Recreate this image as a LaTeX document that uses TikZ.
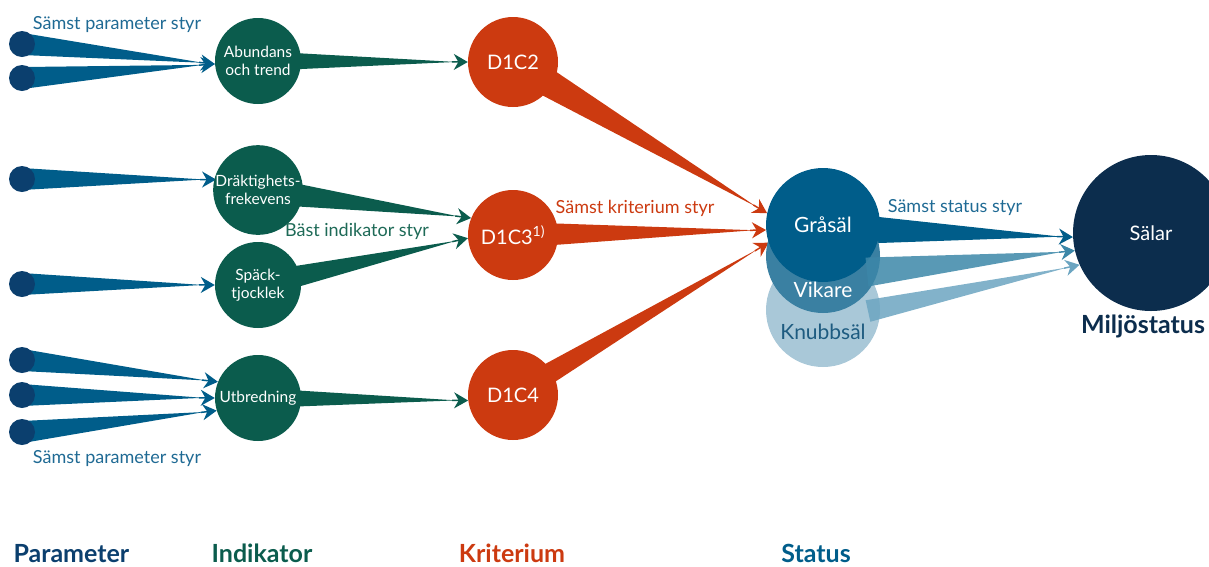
\documentclass[tikz,border=0pt]{standalone}
\usepackage{fontspec}
\setmainfont{Lato}
\usetikzlibrary{calc,arrows.meta}
\definecolor{paramDark}{HTML}{0B3F6E}
\definecolor{paramBlue}{HTML}{005D8A}
\definecolor{indGreen}{HTML}{0B5C4D}
\definecolor{critRed}{HTML}{CC3A10}
\definecolor{statMid}{HTML}{3A80A2}
\definecolor{statLight}{HTML}{A9C8D8}
\definecolor{statArrowMid}{HTML}{3C87A8}
\definecolor{statArrowLight}{HTML}{6CA5C1}
\definecolor{envNavy}{HTML}{0C2D4D}
\definecolor{noteBlue}{HTML}{1F6A94}
\definecolor{noteGreen}{HTML}{1E6A57}
\definecolor{knubbText}{HTML}{1D5B80}

\begin{document}
\begin{tikzpicture}
[x=1pt,y=-1pt,
  dotDecorate/.style={shape=circle,inner sep=0pt,minimum size=26pt},%
  indDecorate/.style={shape=circle,inner sep=0pt,minimum size=86pt,fill=indGreen,text=white,align=center,font=\fontsize{15.5}{17.5}\selectfont},%
  critDecorate/.style={shape=circle,inner sep=0pt,minimum size=90pt,fill=critRed,text=white,font=\fontsize{20}{22}\selectfont},%
  statDecorate/.style={shape=circle,inner sep=0pt,minimum size=114pt,font=\fontsize{21}{23}\selectfont},%
  noteDecorate/.style={font=\fontsize{18}{20}\selectfont},%
  headDecorate/.style={font=\fontsize{25}{27}\selectfont\bfseries,anchor=base},%
  headTip/.style={line width=1.5pt,-{Stealth[length=14pt,width=16pt]}}]
\useasboundingbox (0,0) rectangle (1209,566);
\clip (0,0) rectangle (1209,566);
%% status wedge start points
\coordinate (grOut) at (823,228);
\coordinate (viOut) at (867,272);
\coordinate (knOut) at (868,311);
%% parameter dots
\foreach \nodename/\y in {p1/44, p2/78, p3/179, p4/284, p5/360, p6/395, p7/432}
{
  \node (\nodename) at (22,\y) [dotDecorate] {};
}
%% indicators, kriteria and status (placed first, filled later)
\path
  (258,61) node (ind1) [indDecorate,fill=none] {}
  (258,190) node (ind2) [indDecorate,fill=none] {}
  (258,285) node (ind3) [indDecorate,fill=none] {}
  (258,398) node (ind4) [indDecorate,fill=none] {}
  (513,62) node (crit2) [critDecorate,fill=none] {}
  (513,235) node (crit3) [critDecorate,fill=none] {}
  (513,395) node (crit4) [critDecorate,fill=none] {}
  (823,225) node (gra) [statDecorate] {}
  (823,256) node (vik) [statDecorate] {}
  (823,310) node (knu) [statDecorate] {}
  (1151,233) node (sal) [shape=circle,minimum size=156pt] {};
%% wedges: parameter to indicator
\foreach \s/\t/\hw in {p1/ind1.184/11pt, p2/ind1.184/11pt, p3/ind2.166/11pt, p4/ind3.180/11pt,
  p5/ind4.158/11pt, p6/ind4.180/11pt, p7/ind4.197/11pt}
{
  \fill[paramBlue] ($(\s)!\hw!90:(\t)$) -- ($(\s)!\hw!-90:(\t)$) -- ($(\t)!12pt!(\s)$) -- cycle;
  \draw[paramBlue,headTip] ($(\t)!16pt!(\s)$) -- (\t);
}
\foreach \nodename in {p1,p2,p3,p4,p5,p6,p7}
{
  \fill[paramDark] (\nodename) circle (13pt);
}
%% wedges: indicator to kriterium
\foreach \s/\t/\hw in {ind1/crit2.180/10pt, ind2/crit3.158/14pt, ind3/crit3.184/13pt, ind4/crit4.187/10pt}
{
  \fill[indGreen] ($(\s)!\hw!90:(\t)$) -- ($(\s)!\hw!-90:(\t)$) -- ($(\t)!12pt!(\s)$) -- cycle;
  \draw[indGreen,headTip] ($(\t)!16pt!(\s)$) -- (\t);
}
%% wedges: kriterium to status
\foreach \s/\t/\hw in {crit2/gra.168/16pt, crit3/gra.185/13pt, crit4/gra.198/12pt}
{
  \fill[critRed] ($(\s)!\hw!90:(\t)$) -- ($(\s)!\hw!-90:(\t)$) -- ($(\t)!12pt!(\s)$) -- cycle;
  \draw[critRed,headTip] ($(\t)!16pt!(\s)$) -- (\t);
}
%% wedge: grasal to salar
\fill[paramBlue] ($(grOut)!17pt!90:(sal.183)$) -- ($(grOut)!17pt!-90:(sal.183)$) -- ($(sal.183)!12pt!(grOut)$) -- cycle;
\draw[paramBlue,headTip] ($(sal.183)!16pt!(grOut)$) -- (sal.183);
%% circles
\node at (ind1) [indDecorate] {Abundans\\och trend};
\node at (ind2) [indDecorate] {Dräktighets-\\frekevens};
\node at (ind3) [indDecorate] {Späck-\\tjocklek};
\node at (ind4) [indDecorate] {Utbredning};
\node at (crit2) [critDecorate] {D1C2};
\node at (crit3) [critDecorate] {D1C3\textsuperscript{1)}};
\node at (crit4) [critDecorate] {D1C4};
\node at (knu) [statDecorate,fill=statLight] {};
\node at (vik) [statDecorate,fill=statMid] {};
\node at (gra) [statDecorate,fill=paramBlue,text=white] {Gråsäl};
\node at (823,290) [font=\fontsize{21}{23}\selectfont,text=white] {Vikare};
\node at (823,332) [font=\fontsize{21}{23}\selectfont,text=knubbText] {Knubbsäl};
\node at (sal) [shape=circle,minimum size=156pt,fill=envNavy,text=white,font=\fontsize{20}{22}\selectfont] {Sälar};
%% wedges: vikare and knubbsal, over the circles
\fill[statArrowMid,opacity=0.85] ($(viOut)!14.5pt!90:(sal.193)$) -- ($(viOut)!14.5pt!-90:(sal.193)$) -- ($(sal.193)!12pt!(viOut)$) -- cycle;
\draw[statArrowMid,headTip] ($(sal.193)!16pt!(viOut)$) -- (sal.193);
\fill[statArrowLight,opacity=0.85] ($(knOut)!11pt!90:(sal.204)$) -- ($(knOut)!11pt!-90:(sal.204)$) -- ($(sal.204)!12pt!(knOut)$) -- cycle;
\draw[statArrowLight,headTip] ($(sal.204)!16pt!(knOut)$) -- (sal.204);
%% notes
\node (n1) at (117,25) [noteDecorate,text=noteBlue] {Sämst parameter styr};
\node (n2) at (117,459) [noteDecorate,text=noteBlue] {Sämst parameter styr};
\node (n3) at (357,231) [noteDecorate,text=noteGreen] {Bäst indikator styr};
\node (n4) at (635,208) [noteDecorate,text=critRed] {Sämst kriterium styr};
\node (n5) at (955,208) [noteDecorate,text=noteBlue] {Sämst status styr};
%% column heads
\node (h1) at (10,562) [headDecorate,anchor=base west,text=paramDark] {Parameter};
\node (h2) at (262,562) [headDecorate,text=indGreen] {Indikator};
\node (h3) at (512,562) [headDecorate,text=critRed] {Kriterium};
\node (h4) at (816,562) [headDecorate,text=paramBlue] {Status};
\node (h5) at (1143,326) [font=\fontsize{25}{27}\selectfont\bfseries,text=envNavy] {Miljöstatus};
\end{tikzpicture}
\end{document}
